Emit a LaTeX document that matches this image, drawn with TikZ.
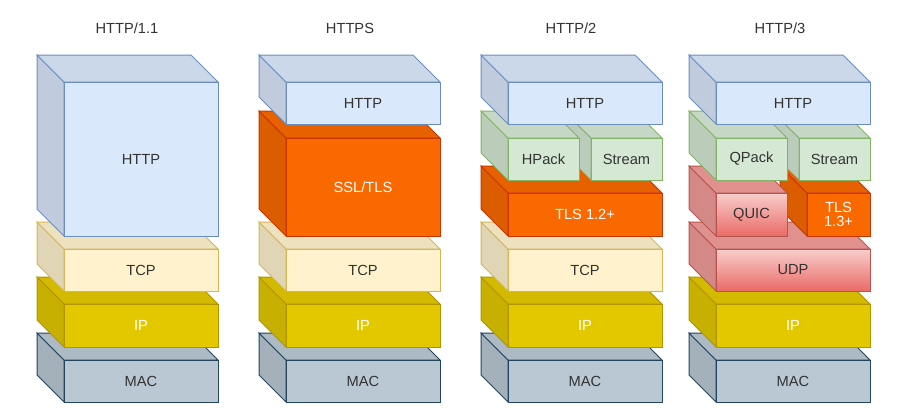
\documentclass[tikz,border=0pt]{standalone}
\usepackage{fontspec}
\setmainfont{Liberation Sans}
\begin{document}
\tikzset{
 blue/.style={/utils/exec=\def\fc{blueF}\def\sc{blueS}\def\tc{black!80}},
 cream/.style={/utils/exec=\def\fc{creamF}\def\sc{creamS}\def\tc{black!80}},
 ipst/.style={/utils/exec=\def\fc{ipF}\def\sc{ipS}\def\tc{white}},
 mac/.style={/utils/exec=\def\fc{macF}\def\sc{macS}\def\tc{black!80}},
 green/.style={/utils/exec=\def\fc{greenF}\def\sc{greenS}\def\tc{black!80}},
 orange/.style={/utils/exec=\def\fc{orangeF}\def\sc{orangeS}\def\tc{white}},
 red/.style={/utils/exec=\def\fc{redF}\def\sc{redS}\def\tc{black!80}},
 title/.style={font=\fontsize{11}{13}\selectfont, text=black!80},
}
\definecolor{blueF}{HTML}{DAE8FC}\definecolor{blueS}{HTML}{6C8EBF}
\definecolor{creamF}{HTML}{FFF2CC}\definecolor{creamS}{HTML}{D6B656}
\definecolor{ipF}{HTML}{E3C800}\definecolor{ipS}{HTML}{B09500}
\definecolor{macF}{HTML}{BAC8D3}\definecolor{macS}{HTML}{23445D}
\definecolor{greenF}{HTML}{D5E8D4}\definecolor{greenS}{HTML}{82B366}
\definecolor{orangeF}{HTML}{FA6800}\definecolor{orangeS}{HTML}{C73500}
\definecolor{redF}{HTML}{F19C99}\definecolor{redS}{HTML}{B85450}
\definecolor{redT}{HTML}{F8CECC}\definecolor{redB}{HTML}{EA6B66}
\newcommand\mycube[7]{% x0 y0 x1 y1 style text name
 \tikzset{#5}%
 \pgfmathsetmacro\xa{#1+27}\pgfmathsetmacro\ya{#2+27}%
 \pgfmathsetmacro\xb{#3-27}\pgfmathsetmacro\yb{#4-27}%
 \draw[draw=\sc, fill=\fc!88!black] (#1,#2) -- (\xa,\ya) -- (\xa,#4) -- (#1,\yb) -- cycle;
 \draw[draw=\sc, fill=\fc!93!black] (#1,#2) -- (\xb,#2) -- (#3,\ya) -- (\xa,\ya) -- cycle;
 \ifx\fc\redFname
 \draw[draw=\sc, top color=redT, bottom color=redB] (\xa,\ya) rectangle (#3,#4);
 \else
 \draw[draw=\sc, fill=\fc] (\xa,\ya) rectangle (#3,#4);
 \fi
 \node[text=\tc, font=\fontsize{11}{12.5}\selectfont, align=center] (#7) at ({(\xa+#3)/2},{(\ya+#4)/2}) {#6};
}
\def\redFname{redF}
\begin{tikzpicture}[x=0.75pt,y=-0.75pt,line width=0.75pt]
\useasboundingbox (0,0) rectangle (917,418);
% column 1
\node[title] (t1) at (127,28) {HTTP/1.1};
\mycube{37}{333}{218}{402}{mac}{MAC}{mac1}
\mycube{37}{277}{218}{347}{ipst}{IP}{ip1}
\mycube{37}{222}{218}{291}{cream}{TCP}{tcp1}
\mycube{37}{55}{218}{236}{blue}{HTTP}{http1}
% column 2
\node[title] (t2) at (350,28) {HTTPS};
\mycube{259}{333}{440}{402}{mac}{MAC}{mac2}
\mycube{259}{277}{440}{347}{ipst}{IP}{ip2}
\mycube{259}{222}{440}{291}{cream}{TCP}{tcp2}
\mycube{259}{111}{440}{236}{orange}{SSL/TLS}{ssl2}
\mycube{259}{55}{440}{124}{blue}{HTTP}{http2}
% column 3
\node[title] (t3) at (571,28) {HTTP/2};
\mycube{481}{333}{662}{402}{mac}{MAC}{mac3}
\mycube{481}{277}{662}{347}{ipst}{IP}{ip3}
\mycube{481}{222}{662}{291}{cream}{TCP}{tcp3}
\mycube{481}{166}{662}{236}{orange}{TLS 1.2+}{tls3}
\mycube{564}{111}{662}{180}{green}{Stream}{st3}
\mycube{481}{111}{579}{180}{green}{HPack}{hp3}
\mycube{481}{55}{662}{124}{blue}{HTTP}{http3}
% column 4
\node[title] (t4) at (780,28) {HTTP/3};
\mycube{689}{333}{870}{402}{mac}{MAC}{mac4}
\mycube{689}{277}{870}{347}{ipst}{IP}{ip4}
\mycube{689}{222}{870}{291}{red}{UDP}{udp4}
\mycube{780}{166}{870}{236}{orange}{TLS\\[-2pt]1.3+}{tls4}
\mycube{689}{166}{787}{236}{red}{QUIC}{quic4}
\mycube{772}{111}{870}{180}{green}{Stream}{st4}
\mycube{689}{111}{787}{180}{green}{QPack}{qp4}
\mycube{689}{55}{870}{124}{blue}{HTTP}{http4}
\end{tikzpicture}
\end{document}
